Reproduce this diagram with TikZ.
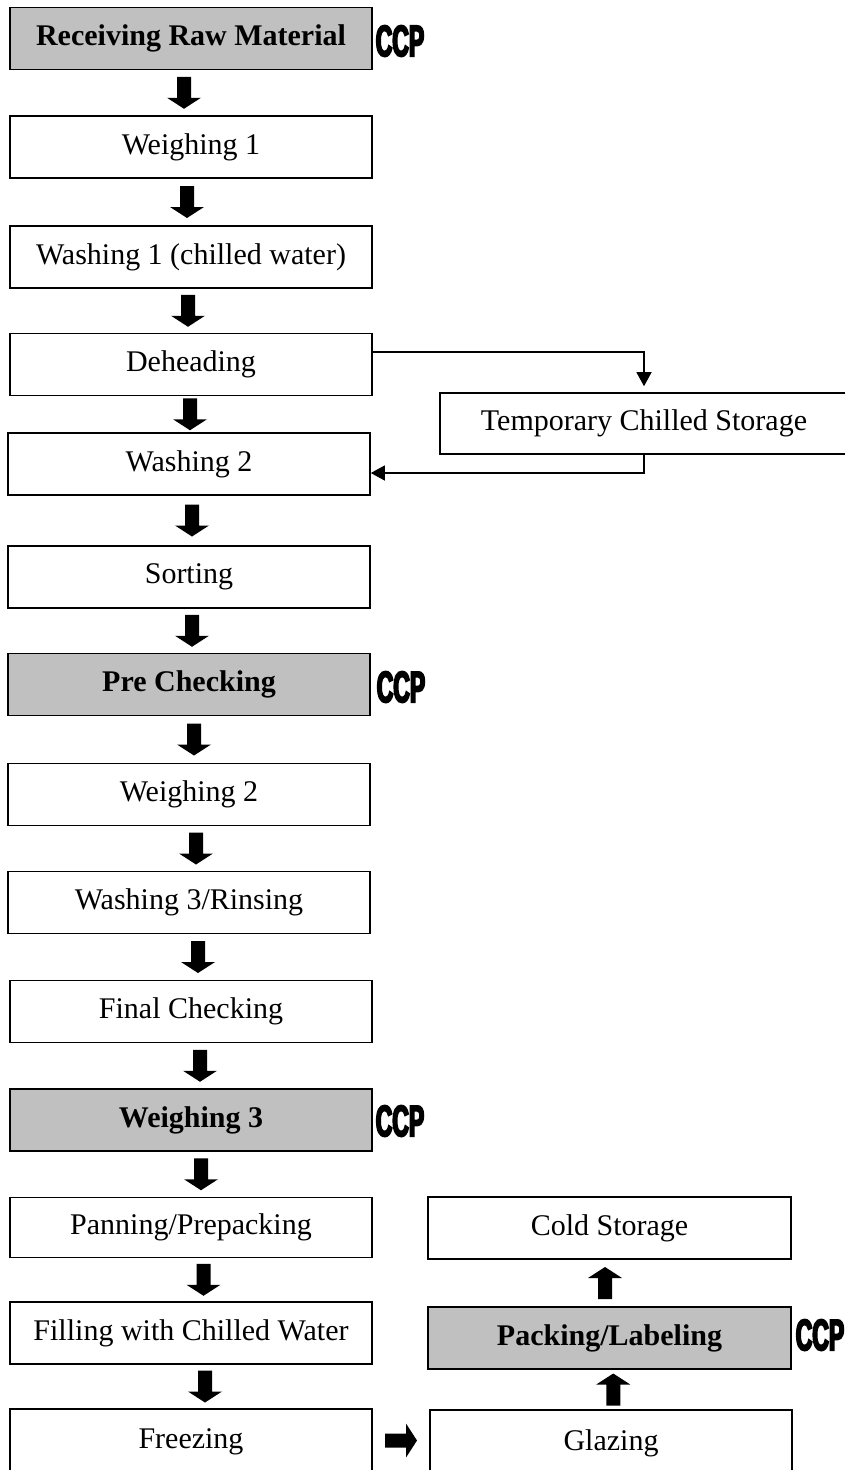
\documentclass[tikz,border=0pt]{standalone}
\usepackage{fontspec}
\setmainfont{Liberation Serif}
\newfontfamily\ccpfont{Liberation Sans Bold}[FakeStretch=0.52,FakeBold=4]
\usetikzlibrary{arrows.meta,calc}

\definecolor{ccpgray}{RGB}{192,192,192}

\tikzset{
  stage/.style={draw=black, line width=1.6pt, fill=white, minimum width=362pt,
    minimum height=62pt, inner sep=0pt, font=\fontsize{30pt}{34pt}\selectfont},
  critical/.style={stage, fill=ccpgray, font=\fontsize{30pt}{34pt}\selectfont\bfseries},
  ccplabel/.style={inner sep=0pt, font=\ccpfont\fontsize{44pt}{46pt}\selectfont},
  thinflow/.style={line width=1.3pt, -{Triangle[width=15pt 0 0,length=14pt 0 0]}},
  pics/blockarrow/.style={code={
    \fill[black] (-7,-16) -- (7,-16) -- (7,5) -- (17,5) -- (0,16) -- (-17,5) -- (-7,5) -- cycle;}}
}

% block arrow between two stacked nodes, shifted sideways by #3
\newcommand\flowdown[3]{\pic at ($(#1.south)!0.5!(#2.north)+(#3,0)$) {blockarrow};}
\newcommand\flowup[3]{\pic[rotate=180] at ($(#1.north)!0.5!(#2.south)+(#3,0)$) {blockarrow};}

\begin{document}
\begin{tikzpicture}[x=1pt,y=-1pt]
\fill[white] (0,0) rectangle (844,1470);
\useasboundingbox (0,0) rectangle (844,1470);

% main processing line
\node[critical] (recv) at (191,38.5) {Receiving Raw Material};
\node[stage] (weigh1) at (191,147) {Weighing 1};
\node[stage] (wash1) at (191,257) {Washing 1 (chilled water)};
\node[stage] (dehead) at (191,364.5) {Deheading};
\node[stage] (wash2) at (189,464) {Washing 2};
\node[stage] (sort) at (189,577) {Sorting};
\node[critical] (precheck) at (189,684.5) {Pre Checking};
\node[stage] (weigh2) at (189,794.5) {Weighing 2};
\node[stage] (wash3) at (189,902.5) {Washing 3/Rinsing};
\node[stage] (finalcheck) at (191,1011.5) {Final Checking};
\node[critical] (weigh3) at (191,1120) {Weighing 3};
\node[stage, minimum height=60pt] (panning) at (191,1227.5) {Panning/Prepacking};
\node[stage] (filling) at (191,1333) {Filling with Chilled Water};
\node[stage, minimum height=66pt] (freezing) at (191,1442) {Freezing};

% side branch and finishing line
\node[stage, minimum width=408pt, minimum height=61pt] (tempstore) at (644,423.5) {Temporary Chilled Storage};
\node[stage, minimum width=363pt] (coldstore) at (609.5,1228) {Cold Storage};
\node[critical, minimum width=363pt] (packing) at (609.5,1338) {Packing/Labeling};
\node[stage, minimum height=66pt] (glazing) at (611,1443) {Glazing};

% critical control points
\node[ccplabel] (ccp1) at (400,41) {CCP};
\node[ccplabel] (ccp2) at (401,687) {CCP};
\node[ccplabel] (ccp3) at (400,1121) {CCP};
\node[ccplabel] (ccp4) at (820,1335) {CCP};

% block arrows
\flowdown{recv}{weigh1}{-7}
\flowdown{weigh1}{wash1}{-4}
\flowdown{wash1}{dehead}{-3}
\flowdown{dehead}{wash2}{0}
\flowdown{wash2}{sort}{3}
\flowdown{sort}{precheck}{3}
\flowdown{precheck}{weigh2}{5}
\flowdown{weigh2}{wash3}{7}
\flowdown{wash3}{finalcheck}{8}
\flowdown{finalcheck}{weigh3}{9}
\flowdown{weigh3}{panning}{10}
\flowdown{panning}{filling}{12.5}
\flowdown{filling}{freezing}{14}
\pic[rotate=90] at ($(freezing.east)!0.5!(glazing.west)+(0,-2)$) {blockarrow};
\flowup{glazing}{packing}{3}
\flowup{packing}{coldstore}{-4.5}

% temporary storage loop
\draw[thinflow, shorten >=6pt] ([yshift=12.5pt]dehead.east) -| (tempstore.north);
\draw[thinflow] (tempstore.south) |- ([yshift=-9pt]wash2.east);
\end{tikzpicture}
\end{document}
